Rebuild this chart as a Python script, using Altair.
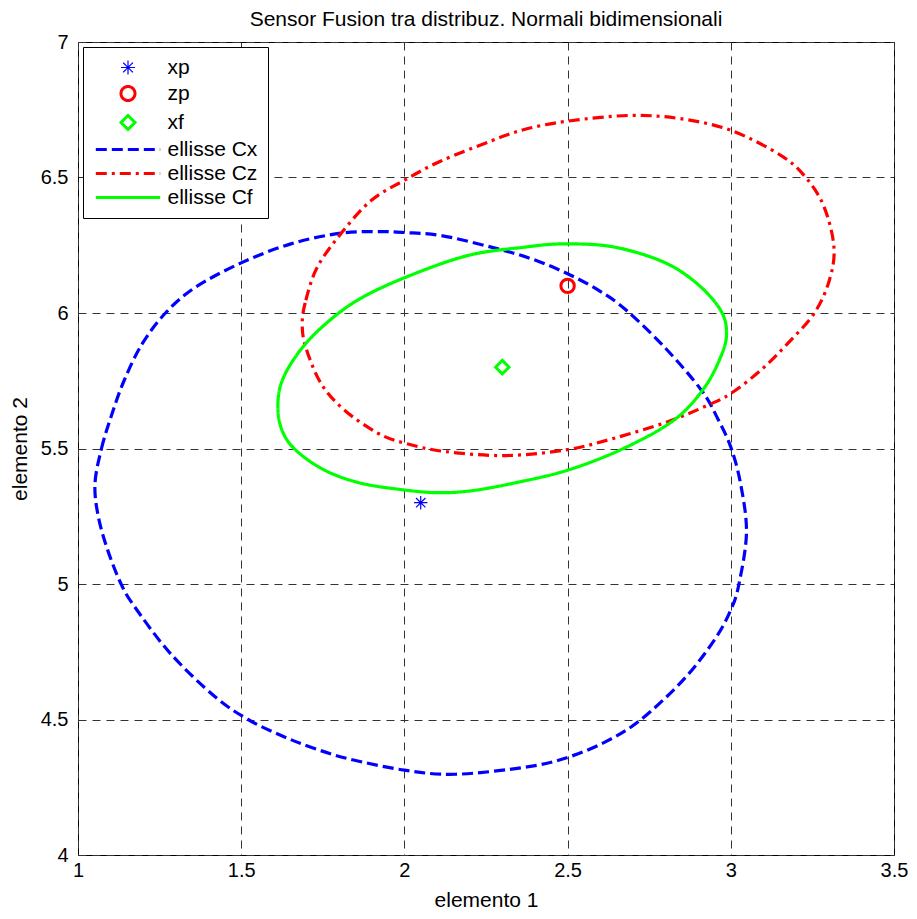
import altair as alt
import pandas as pd

FONT = "Liberation Sans"

# ---- categories / legend entries ----
series_names = ["xp", "zp", "xf", "ellisse Cx", "ellisse Cz", "ellisse Cf"]
series_colors = ["#0000FF", "#FF0000", "#00FF00", "#0000FF", "#FF0000", "#00FF00"]

# ---- point estimates ----
pt_series = ["xp", "zp", "xf"]
pt_x = [2.05, 2.5, 2.3]
pt_y = [5.3, 6.1, 5.8]

# ---- ellipse Cx (blue dashed), traced clockwise ----
cx_x = [1.052, 1.072, 1.102, 1.141, 1.196, 1.268, 1.36, 1.50, 1.652, 1.807, 1.928, 2.00, 2.112, 2.266,
        2.389, 2.50, 2.60, 2.68, 2.80, 2.91, 2.96, 3.00, 3.03, 3.048, 3.025, 3.00, 2.95, 2.855, 2.725,
        2.62, 2.50, 2.376, 2.157, 2.00, 1.829, 1.72, 1.624, 1.521, 1.419, 1.282, 1.173, 1.132, 1.091,
        1.062]
cx_y = [5.37, 5.50, 5.62, 5.75, 5.885, 6.00, 6.095, 6.185, 6.255, 6.295, 6.30, 6.297, 6.286, 6.243,
        6.20, 6.145, 6.08, 6.01, 5.87, 5.715, 5.61, 5.505, 5.37, 5.19, 5.00, 4.904, 4.794, 4.647, 4.50,
        4.42, 4.36, 4.325, 4.298, 4.313, 4.355, 4.395, 4.44, 4.50, 4.585, 4.745, 4.917, 5.00, 5.125,
        5.25]

# ---- ellipse Cz (red dash-dot), traced clockwise ----
cz_x = [1.687, 1.698, 1.733, 1.805, 1.897, 2.00, 2.112, 2.266, 2.37, 2.50, 2.69, 2.846, 3.00, 3.153,
        3.23, 3.286, 3.316, 3.302, 3.256, 3.174, 3.092, 3.00, 2.928, 2.805, 2.64, 2.50, 2.312, 2.123,
        2.00, 1.918, 1.815, 1.744, 1.697]
cz_y = [5.963, 6.047, 6.169, 6.292, 6.414, 6.49, 6.561, 6.635, 6.678, 6.708, 6.729, 6.717, 6.674, 6.582,
        6.50, 6.391, 6.243, 6.121, 6.00, 5.887, 5.789, 5.703, 5.659, 5.598, 5.537, 5.496, 5.474, 5.489,
        5.52, 5.557, 5.643, 5.741, 5.877]

# ---- ellipse Cf (green solid), traced clockwise ----
cf_x = [1.613, 1.631, 1.682, 1.754, 1.856, 2.00, 2.194, 2.369, 2.487, 2.64, 2.794, 2.897, 2.969, 2.987,
        2.969, 2.917, 2.825, 2.671, 2.50, 2.334, 2.205, 2.102, 2.00, 1.867, 1.754, 1.662, 1.621]
cf_y = [5.68, 5.766, 5.864, 5.955, 6.047, 6.13, 6.212, 6.243, 6.255, 6.244, 6.188, 6.108, 6.01, 5.924,
        5.838, 5.721, 5.604, 5.50, 5.42, 5.372, 5.344, 5.337, 5.347, 5.372, 5.421, 5.50, 5.581]

x_ticks = [1, 1.5, 2, 2.5, 3, 3.5]
y_ticks = [4, 4.5, 5, 5.5, 6, 6.5, 7]

rows = []
for name, xs, ys in [("ellisse Cx", cx_x, cx_y), ("ellisse Cz", cz_x, cz_y), ("ellisse Cf", cf_x, cf_y)]:
    for i, (a, b) in enumerate(zip(xs, ys)):
        rows.append({"series": name, "x": a, "y": b, "i": i})
lines_df = pd.DataFrame(rows)
points_df = pd.DataFrame({"series": pt_series, "x": pt_x, "y": pt_y})

ast = "M-1,0L1,0M0,-1L0,1M-0.7,-0.7L0.7,0.7M-0.7,0.7L0.7,-0.7"
seg = "M-4.6,0L4.6,0"
shapes = [ast, "circle", "diamond", seg, seg, seg]
dashes = [[1, 0], [1, 0], [1, 0], [11, 5], [11, 5, 3, 5], [1, 0]]
widths = [1.2, 3, 3, 3.2, 3.2, 3.2]

legend = alt.Legend(
    title=None, orient="top-left", offset=5, padding=10,
    strokeColor="black", fillColor="white", cornerRadius=0,
    symbolSize=196, symbolOffset=24.5, labelOffset=29,
    symbolFillColor="transparent",
    labelFont=FONT, labelFontSize=21, labelColor="black", rowPadding=2, labelLimit=400,
)

color = alt.Color("series:N", scale=alt.Scale(domain=series_names, range=series_colors), legend=legend)
shape = alt.Shape("series:N", scale=alt.Scale(domain=series_names, range=shapes), legend=legend)
dash = alt.StrokeDash("series:N", scale=alt.Scale(domain=series_names, range=dashes), legend=legend)
swidth = alt.StrokeWidth("series:N", scale=alt.Scale(type="ordinal", domain=series_names, range=widths),
                         legend=legend)

xenc = alt.X("x:Q", scale=alt.Scale(domain=[1, 3.5], nice=False, zero=False),
             axis=alt.Axis(title="elemento 1", values=x_ticks, format="~g", grid=True,
                           gridDash=[8, 6], gridColor="#333333", gridWidth=1, gridOpacity=1,
                           domain=False, ticks=False, labelFont=FONT, labelFontSize=20,
                           labelColor="black", labelPadding=5, labelFlush=False,
                           titleFont=FONT, titleFontSize=21, titleFontWeight="normal",
                           titleColor="black", titlePadding=9))
yenc = alt.Y("y:Q", scale=alt.Scale(domain=[4, 7], nice=False, zero=False),
             axis=alt.Axis(title="elemento 2", values=y_ticks, format="~g", grid=True,
                           gridDash=[8, 6], gridColor="#333333", gridWidth=1, gridOpacity=1,
                           domain=False, ticks=False, labelFont=FONT, labelFontSize=20,
                           labelColor="black", labelPadding=10, labelFlush=False,
                           titleFont=FONT, titleFontSize=21, titleFontWeight="normal",
                           titleColor="black", titlePadding=10))

pts_layer = alt.Chart(points_df).mark_point(filled=False, size=180, opacity=1).encode(
    x=xenc, y=yenc, color=color, shape=shape, strokeWidth=swidth
)

line_layer = alt.Chart(lines_df).mark_line(interpolate="cardinal-closed").encode(
    x=xenc, y=yenc, color=color, strokeDash=dash, strokeWidth=swidth, order="i:Q"
)

chart = alt.layer(pts_layer, line_layer).properties(
    width=816, height=813,
    title=alt.TitleParams("Sensor Fusion tra distribuz. Normali bidimensionali",
                          font=FONT, fontSize=21, fontWeight="normal", color="black",
                          anchor="middle", offset=2),
    autosize=alt.AutoSizeParams(type="none"),
    padding={"left": 70, "top": 34, "right": 15, "bottom": 58},
    background="white",
).configure_view(stroke="black", strokeWidth=1, fill="white")

chart.save("out.html", embed_options={"renderer": "svg", "actions": False})
